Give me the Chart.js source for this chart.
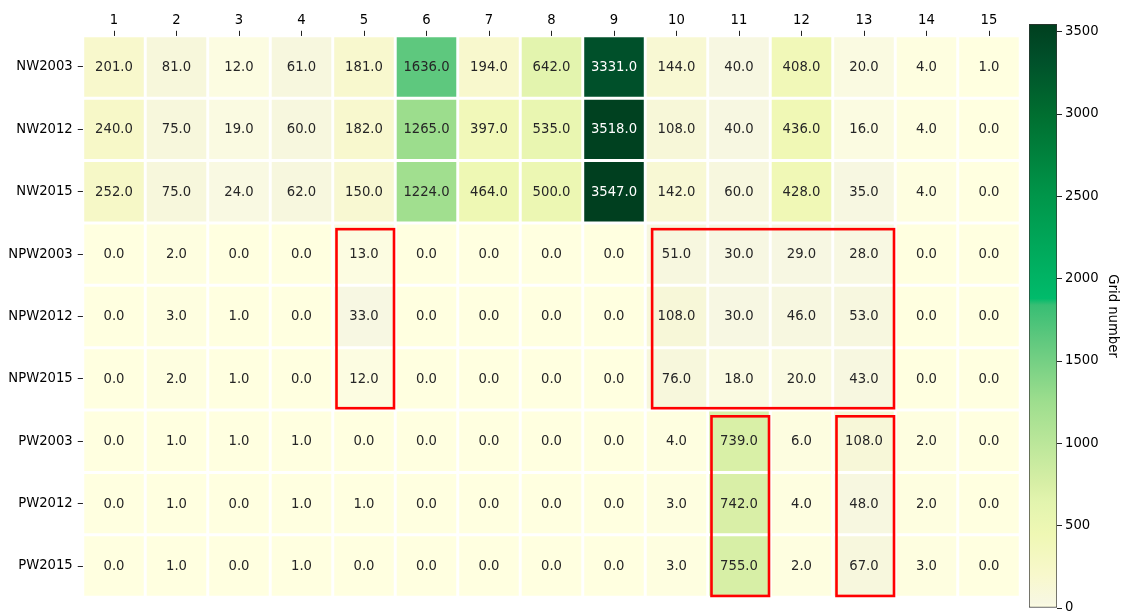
<!DOCTYPE html>
<html><head><meta charset="utf-8">
<script src="https://cdn.jsdelivr.net/npm/chart.js@4.4.1/dist/chart.umd.min.js"></script>
<style>
html,body{margin:0;padding:0;background:#fff;}
#wrap{position:relative;width:1121px;height:615px;overflow:hidden;}
canvas{position:absolute;left:0;top:0;}
</style></head><body>
<div id="wrap"><canvas id="hm" width="1121" height="615"></canvas><canvas id="cb" width="1121" height="615"></canvas></div>
<script>
const columns = ['1','2','3','4','5','6','7','8','9','10','11','12','13','14','15'];
const rowLabels = ['NW2003','NW2012','NW2015','NPW2003','NPW2012','NPW2015','PW2003','PW2012','PW2015'];
const nw2003  = [201,81,12,61,181,1636,194,642,3331,144,40,408,20,4,1];
const nw2012  = [240,75,19,60,182,1265,397,535,3518,108,40,436,16,4,0];
const nw2015  = [252,75,24,62,150,1224,464,500,3547,142,60,428,35,4,0];
const npw2003 = [0,2,0,0,13,0,0,0,0,51,30,29,28,0,0];
const npw2012 = [0,3,1,0,33,0,0,0,0,108,30,46,53,0,0];
const npw2015 = [0,2,1,0,12,0,0,0,0,76,18,20,43,0,0];
const pw2003  = [0,1,1,1,0,0,0,0,0,4,739,6,108,2,0];
const pw2012  = [0,1,0,1,1,0,0,0,0,3,742,4,48,2,0];
const pw2015  = [0,1,0,1,0,0,0,0,0,3,755,2,67,3,0];
const colorbarTicks = [0,500,1000,1500,2000,2500,3000,3500];
const colorbarTitle = 'Grid number';
const vmin = 0, vmax = 3547;
// highlighted regions, in column / row units (edges)
const boxCols = [[4.06,4.98],[9.11,12.98],[10.06,10.98],[12.06,12.98]];
const boxRows = [[3.10,5.97],[3.10,5.97],[6.10,8.98],[6.10,8.98]];

const matrix = [nw2003,nw2012,nw2015,npw2003,npw2012,npw2015,pw2003,pw2012,pw2015];

// colormap
const cmapStops  = [0, 30, 200, 450, 650, 750, 1250, 1636, 1840, 1880, 2500, 3000, 3331, 3547];
const cmapColors = ['#ffffe0','#f7f7e2','#f8f8cc','#eff8b4','#e2f4ae','#d8efa6','#9ede8e','#5ec87e','#38be74','#00bb6b','#00964a','#006e30','#00502a','#003f1f'];
function hex2rgb(h){return [parseInt(h.slice(1,3),16),parseInt(h.slice(3,5),16),parseInt(h.slice(5,7),16)];}
const cmapRGB = cmapColors.map(hex2rgb);
function cmap(v){
  if (v <= cmapStops[0]) return cmapRGB[0];
  for (let i=1;i<cmapStops.length;i++){
    if (v <= cmapStops[i]){
      const t=(v-cmapStops[i-1])/(cmapStops[i]-cmapStops[i-1]);
      const a=cmapRGB[i-1], b=cmapRGB[i];
      return [0,1,2].map(k=>Math.round(a[k]+(b[k]-a[k])*t));
    }
  }
  return cmapRGB[cmapRGB.length-1];
}
function rgbStr(c){return 'rgb('+c[0]+','+c[1]+','+c[2]+')';}
function lum(c){
  const f=x=>{x/=255;return x<=0.03928?x/12.92:Math.pow((x+0.055)/1.055,2.4);};
  return 0.2126*f(c[0])+0.7152*f(c[1])+0.0722*f(c[2]);
}

const FONT = {family:'DejaVu Sans', size:13.2};

const datasets = matrix.map((vals, r) => ({
  label: rowLabels[r],
  data: vals.map(() => [r, r+1]),
  values: vals,
  backgroundColor: vals.map(v => rgbStr(cmap(v))),
  borderColor: '#ffffff',
  borderWidth: 1.8,
  borderSkipped: false,
  grouped: false,
  barPercentage: 1,
  categoryPercentage: 1
}));

const annotPlugin = {
  id: 'annot',
  afterDatasetsDraw(chart){
    const ctx = chart.ctx;
    ctx.save();
    ctx.font = FONT.size + 'px "DejaVu Sans"';
    ctx.textAlign = 'center';
    ctx.textBaseline = 'middle';
    chart.data.datasets.forEach((ds, di) => {
      const meta = chart.getDatasetMeta(di);
      meta.data.forEach((bar, j) => {
        const v = ds.values[j];
        const c = cmap(v);
        ctx.fillStyle = lum(c) > 0.408 ? '#262626' : '#ffffff';
        const p = bar.getCenterPoint();
        ctx.fillText(v.toFixed(1), p.x, p.y + 0.5);
      });
    });
    ctx.restore();
  }
};
const boxPlugin = {
  id: 'boxes',
  afterDraw(chart){
    const xs = chart.scales.x, ys = chart.scales.y;
    const ctx = chart.ctx;
    ctx.save();
    ctx.strokeStyle = '#ff0000';
    ctx.lineWidth = 2.6;
    boxCols.forEach((bc, i) => {
      const x0 = xs.getPixelForValue(bc[0]-0.5), x1 = xs.getPixelForValue(bc[1]-0.5);
      const y0 = ys.getPixelForValue(boxRows[i][0]), y1 = ys.getPixelForValue(boxRows[i][1]);
      ctx.strokeRect(x0, y0, x1-x0, y1-y0);
    });
    ctx.restore();
  }
};

new Chart(document.getElementById('hm'), {
  type: 'bar',
  data: {labels: columns, datasets},
  options: {
    responsive: false, animation: false, events: [],
    layout: {padding: {left: 0, top: 0, right: 100.75, bottom: 17.8}},
    plugins: {legend: {display: false}, tooltip: {enabled: false}},
    scales: {
      x: {
        type: 'category', position: 'top', offset: true,
        grid: {display: true, drawOnChartArea: false, drawTicks: true, tickLength: 5, offset: false, color: '#222', lineWidth: 1},
        border: {display: false},
        ticks: {font: FONT, color: '#000', padding: 2, maxRotation: 0, autoSkip: false},
        afterFit: s => { s.height = 35.8; }
      },
      y: {
        type: 'linear', min: 0, max: 9, reverse: true,
        afterBuildTicks: s => { s.ticks = rowLabels.map((_, i) => ({value: i + 0.5})); },
        grid: {display: true, drawOnChartArea: false, drawTicks: true, tickLength: 5, color: '#222', lineWidth: 1},
        border: {display: false},
        ticks: {font: FONT, color: '#000', padding: 5, autoSkip: false, callback: (v, i) => rowLabels[i]},
        afterFit: s => { s.width = 82.75; }
      }
    }
  },
  plugins: [annotPlugin, boxPlugin]
});

new Chart(document.getElementById('cb'), {
  type: 'bar',
  data: {labels: ['cb'], datasets: [{
    data: [[vmin, vmax]],
    backgroundColor: (context) => {
      const chart = context.chart;
      if (!chart.chartArea) return '#fff';
      const y = chart.scales.y;
      const p0 = y.getPixelForValue(vmin), p1 = y.getPixelForValue(vmax);
      const g = chart.ctx.createLinearGradient(0, p0, 0, p1);
      cmapStops.forEach((s, i) => g.addColorStop((s - vmin) / (vmax - vmin), cmapColors[i]));
      return g;
    },
    borderColor: '#333', borderWidth: 1, borderSkipped: false,
    barPercentage: 1, categoryPercentage: 1
  }]},
  options: {
    responsive: false, animation: false, events: [],
    layout: {padding: {left: 1029, top: 24, right: 0, bottom: 7}},
    plugins: {legend: {display: false}, tooltip: {enabled: false}},
    scales: {
      x: {display: false},
      y: {
        type: 'linear', position: 'right', min: vmin, max: vmax,
        afterBuildTicks: s => { s.ticks = colorbarTicks.map(v => ({value: v})); },
        grid: {display: true, drawOnChartArea: false, drawTicks: true, tickLength: 5, color: '#222', lineWidth: 1},
        border: {display: false},
        ticks: {font: FONT, color: '#000', padding: 3, autoSkip: false, callback: v => String(v)},
        title: {display: true, text: colorbarTitle, font: FONT, color: '#000', padding: {top: 1, bottom: 0}},
        afterFit: s => { s.width = 64; s.paddingTop = 0; s.paddingBottom = 0; }
      }
    }
  }
});
</script>
</body></html>
